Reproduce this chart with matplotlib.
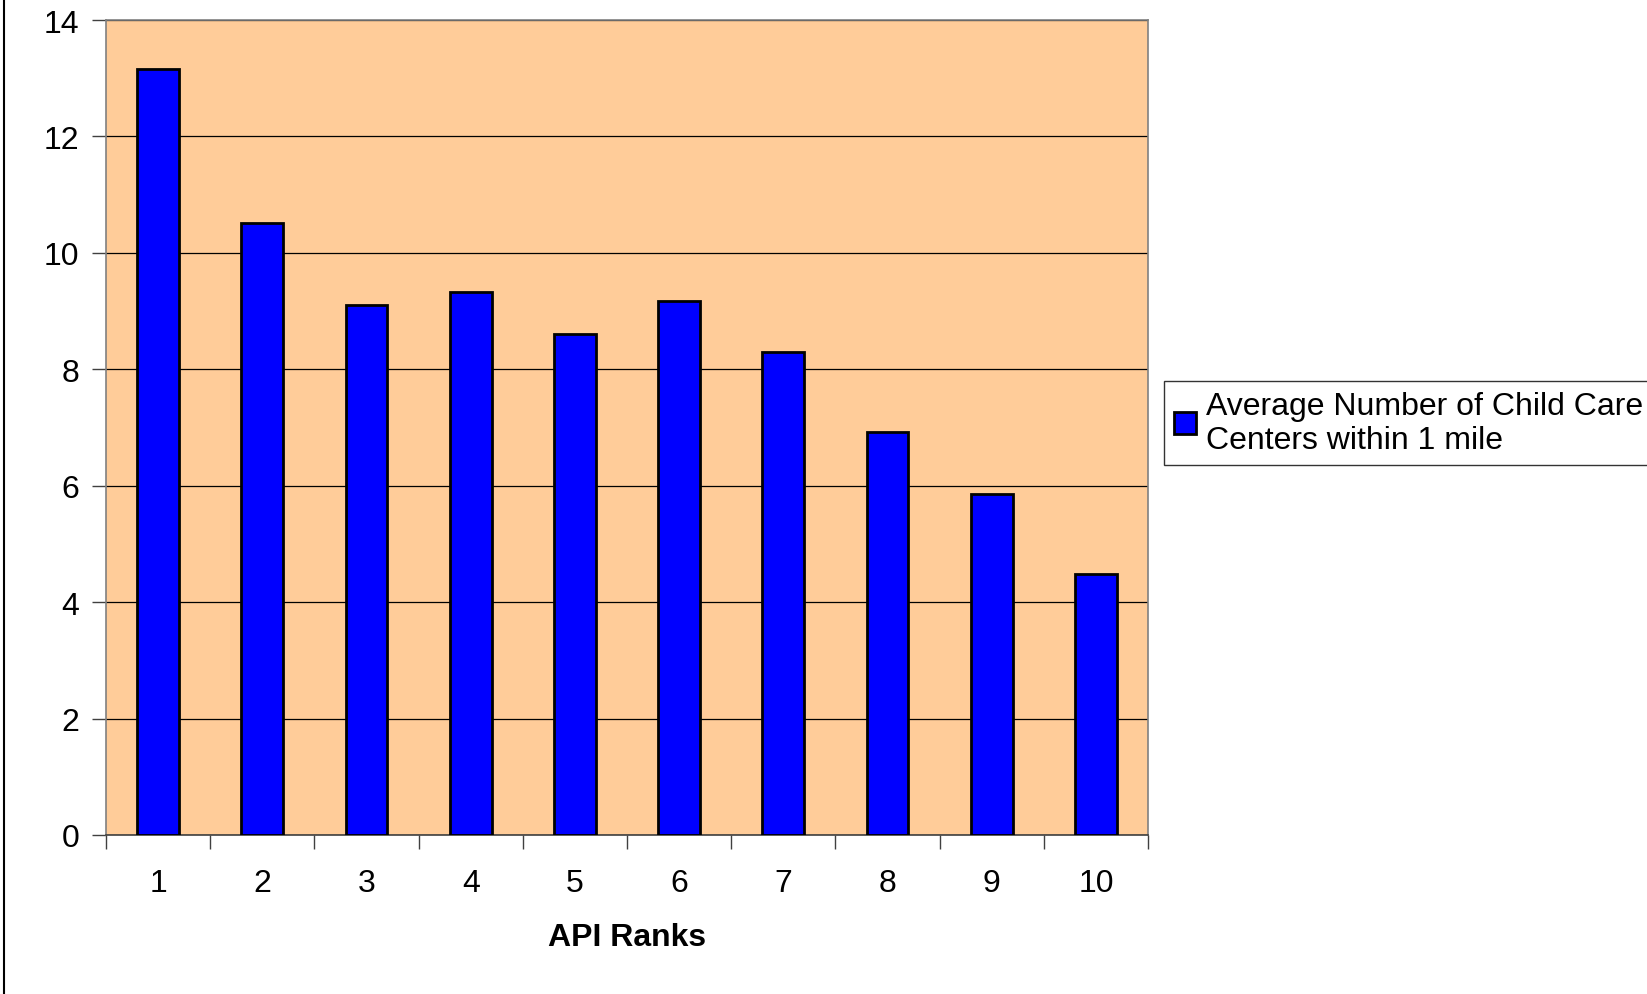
import numpy as np
import matplotlib.pyplot as plt
from matplotlib.lines import Line2D

plt.rcParams["font.family"] = ["Liberation Sans", "DejaVu Sans"]

# data
ranks = ["1", "2", "3", "4", "5", "6", "7", "8", "9", "10"]
centers = [13.15, 10.51, 9.10, 9.32, 8.61, 9.17, 8.30, 6.93, 5.85, 4.48]
series_name = "Average Number of Child Care\nCenters within 1 mile"
yticks = [0, 2, 4, 6, 8, 10, 12, 14]

W, H = 1647, 995
fs = 23
fig = plt.figure(figsize=(W / 100, H / 100), dpi=100)
ax = fig.add_axes([106 / W, 1 - 836 / H, (1148 - 106) / W, (836 - 21) / H])
ax.set_facecolor("#FFCC99")

x = np.arange(1, len(ranks) + 1)
bars = ax.bar(x, centers, width=0.4, color="#0000FF", edgecolor="black",
              linewidth=2, zorder=3, label=series_name)

ax.set_xlim(0.5, len(ranks) + 0.5)
ax.set_ylim(0, 14)
ax.set_yticks(yticks)
ax.set_yticklabels([str(v) for v in yticks])
ax.yaxis.grid(True, color="black", linewidth=0.9, zorder=1)
ax.set_axisbelow(True)

# major ticks at category boundaries, labels on minor ticks at centres
ax.set_xticks(np.arange(0.5, len(ranks) + 1, 1.0))
ax.set_xticklabels([])
ax.set_xticks(x, minor=True)
ax.set_xticklabels(ranks, minor=True)
ax.tick_params(axis="x", which="minor", length=0, pad=24, labelsize=fs)
ax.tick_params(axis="x", which="major", length=10, width=1, color="#404040")
ax.tick_params(axis="y", length=10, width=1, color="#404040", pad=9,
               labelsize=fs)

for side in ["top", "right", "left"]:
    ax.spines[side].set_color("#808080")
    ax.spines[side].set_linewidth(1.2)
ax.spines["bottom"].set_color("#404040")
ax.spines["bottom"].set_linewidth(1.2)

ax.set_xlabel("API Ranks", fontsize=fs, fontweight="bold", labelpad=17)

leg = fig.legend(handles=[bars], labels=[series_name],
                 loc="upper left", bbox_to_anchor=(1164 / W, 1 - 382 / H),
                 fontsize=fs, frameon=True, fancybox=False, edgecolor="black",
                 handlelength=0.7, handleheight=0.7, handletextpad=0.3,
                 borderpad=0.3, labelspacing=0.2, borderaxespad=0)
leg.get_frame().set_linewidth(1.0)

# left edge of the chart area border
fig.add_artist(Line2D([4 / W, 4 / W], [0, 1], color="black", linewidth=1.5,
                      transform=fig.transFigure))

fig.savefig("out.png", dpi=100)
